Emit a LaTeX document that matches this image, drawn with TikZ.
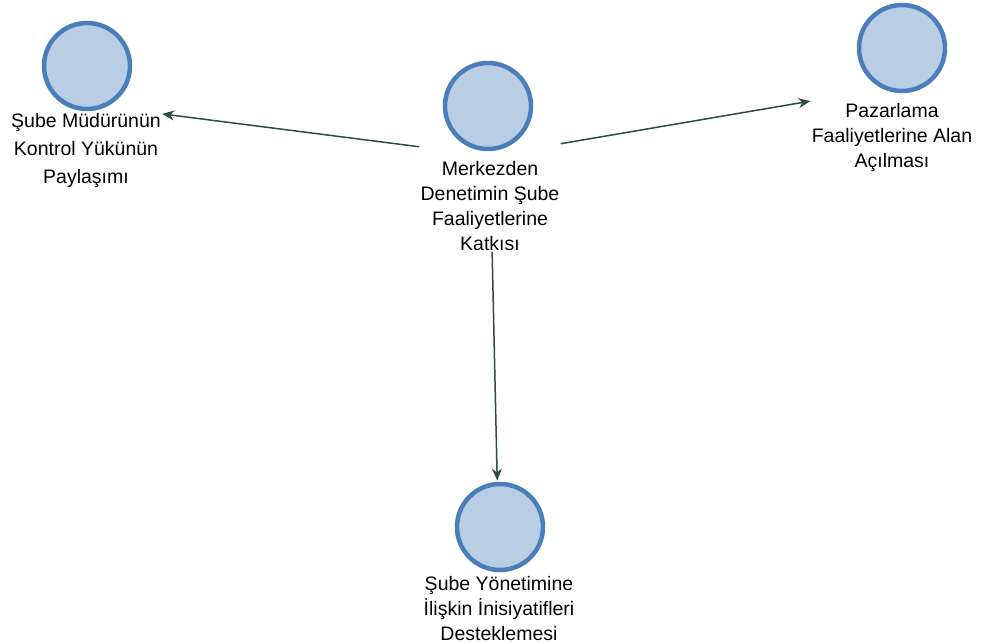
\documentclass[tikz,border=0pt]{standalone}
\usepackage{fontspec}
\setmainfont{Liberation Sans}
\usetikzlibrary{arrows.meta,fit}
\definecolor{nodefill}{HTML}{B9CDE5}
\definecolor{nodeedge}{HTML}{4A7EBB}
\definecolor{linkcol}{HTML}{2E4A45}
\begin{document}
\begin{tikzpicture}[x=1pt,y=-1pt,
  ent/.style={circle,draw=nodeedge,fill=nodefill,line width=4.5pt,minimum size=86pt,inner sep=0pt},
  lbl/.style={align=center,font=\fontsize{19.5}{25}\selectfont,inner sep=0pt,anchor=north},
  grp/.style={inner sep=1pt},
  link/.style={draw=linkcol,line width=1.5pt,-{Stealth[length=12pt,width=10pt]}}]
\useasboundingbox (0,0) rectangle (997,644);
% top-left
\node[ent] (c1) at (87,66) {};
\node[lbl,font=\fontsize{19.5}{28}\selectfont] (l1) at (86,113) {Şube Müdürünün\\Kontrol Yükünün\\Paylaşımı};
% centre
\node[ent] (c2) at (488,106) {};
\node[lbl] (l2) at (490,161) {Merkezden\\Denetimin Şube\\Faaliyetlerine\\Katkısı};
% right
\node[ent] (c3) at (902,48) {};
\node[lbl] (l3) at (892,103) {Pazarlama\\Faaliyetlerine Alan\\Açılması};
% bottom
\node[ent] (c4) at (500,527) {};
\node[lbl] (l4) at (499,576) {Şube Yönetimine\\İlişkin İnisiyatifleri\\Desteklemesi};
% groups
\node[grp,fit=(c1)(l1)] (g1) {};
\node[grp,fit=(c2)(l2)] (g2) {};
\node[grp,fit=(c3)(l3)] (g3) {};
\node[grp,fit=(c4)(l4)] (g4) {};
\draw[link] (g2) -- (g1);
\draw[link] (g2) -- (g3);
\draw[link] (g2) -- (g4);
\end{tikzpicture}
\end{document}
